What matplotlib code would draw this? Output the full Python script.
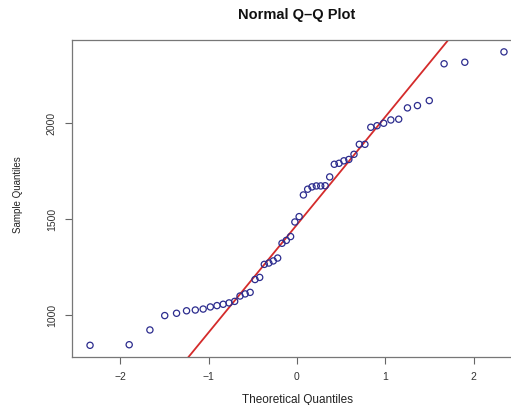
import statistics
import numpy as np
import matplotlib
matplotlib.use("Agg")
import matplotlib.pyplot as plt

plt.rcParams['font.family'] = ['Liberation Sans', 'DejaVu Sans']

# sample values (sorted, n = 52)
sample = [842, 845, 922, 997, 1009, 1022, 1026, 1031, 1042, 1049,
          1056, 1063, 1071, 1099, 1110, 1118, 1185, 1196, 1264, 1271,
          1282, 1297, 1374, 1389, 1409, 1485, 1513, 1626, 1656, 1668,
          1673, 1673, 1674, 1720, 1786, 1791, 1804, 1811, 1838, 1890,
          1890, 1979, 1987, 2000, 2017, 2021, 2080, 2092, 2118, 2310,
          2318, 2372]
x_ticks = [-2, -1, 0, 1, 2]
y_ticks = [1000, 1500, 2000]

# theoretical quantiles like R's qqnorm (ppoints with a = 0.5)
n = len(sample)
nd = statistics.NormalDist()
theo = [nd.inv_cdf((i + 0.5) / n) for i in range(n)]

# qqline through the quartiles
q1, q3 = np.quantile(sample, [0.25, 0.75])
z1, z3 = nd.inv_cdf(0.25), nd.inv_cdf(0.75)
slope = (q3 - q1) / (z3 - z1)
intercept = q1 - slope * z1

fig = plt.figure(figsize=(5.11, 4.05), dpi=100)
ax = fig.add_axes([72 / 511, 48 / 405, 450 / 511, 317 / 405])

ax.scatter(theo, sample, s=20, facecolors='none', edgecolors='#2c2c8e', linewidths=0.9, zorder=3)
xs = np.array([-3, 3])
ax.plot(xs, intercept + slope * xs, color='#d42b2b', linewidth=1.3, zorder=2)

ax.set_xlim(-2.545, 2.545)
ax.set_ylim(781, 2434)
ax.set_xticks(x_ticks)
ax.set_yticks(y_ticks)
ax.tick_params(direction='out', length=5, width=0.8, color='#666666',
               labelsize=7.5, labelcolor='#333333', pad=6)
plt.setp(ax.get_yticklabels(), rotation=90, va='center')
for s in ax.spines.values():
    s.set_color('#777777')
    s.set_linewidth(0.9)

ax.set_xlabel('Theoretical Quantiles', fontsize=8.5, color='#222222', va='center')
ax.xaxis.set_label_coords(0.5, -0.136)
ax.set_ylabel('Sample Quantiles', fontsize=7, color='#222222', va='center')
ax.yaxis.set_label_coords(-0.12, 0.511)

fig.text(297 / 511, 1 - 15 / 405, 'Normal Q\u2013Q Plot', fontsize=10.5, fontweight='bold',
         ha='center', va='center', color='#111111')

fig.savefig('out.png', dpi=100)
